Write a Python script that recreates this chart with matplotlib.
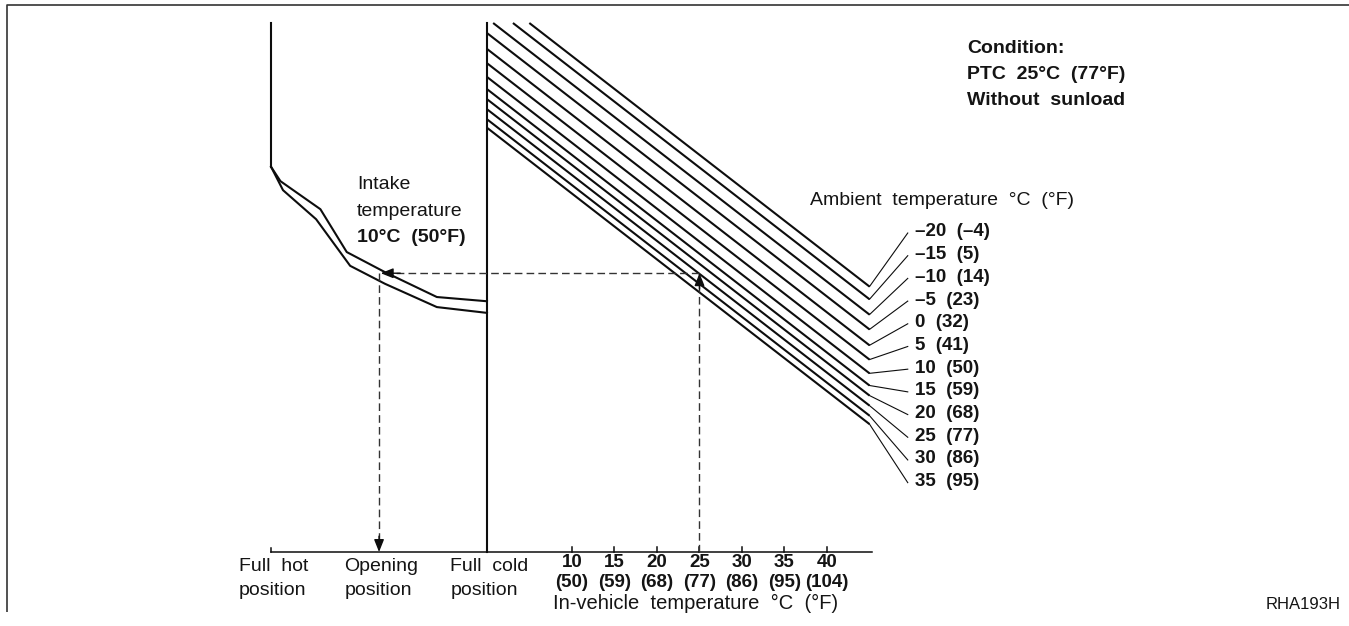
"""
Mix door opening vs in-vehicle temperature chart (service manual style)
"""

import matplotlib
matplotlib.use('Agg')
import matplotlib.pyplot as plt

plt.rcParams['font.family'] = ['Liberation Sans', 'DejaVu Sans']

# ================================
# Data
# ================================
# In-vehicle temperature axis (°C / °F)
invehicle_c = [10, 15, 20, 25, 30, 35, 40]
invehicle_f = [50, 59, 68, 77, 86, 95, 104]

# Ambient temperature lines: value at full cold position, common slope
ambient_c = [-20, -15, -10, -5, 0, 5, 10, 15, 20, 25, 30, 35]
ambient_f = [-4, 5, 14, 23, 32, 41, 50, 59, 68, 77, 86, 95]
ambient_y0 = [106.2, 103.8, 100.9, 98.1, 95.1, 92.4, 89.8, 87.5, 85.6, 83.7, 81.8, 80.2]
ambient_slope = -1.245
T_END = 45
Y_TOP = 100

# Mix door positions on the left-hand scale
pos_names = ['Full  hot\nposition', 'Opening\nposition', 'Full  cold\nposition']
pos_x = [-25.4, -12.7, 0]

# Intake temperature 10°C curve (drawn as two traces)
curve_upper_x = [-25.4, -24.3, -19.6, -16.5, -12.0, -5.9, 0]
curve_upper_y = [72.8, 70.1, 64.8, 56.7, 52.9, 48.2, 47.4]
curve_lower_x = [-25.4, -24.0, -20.1, -16.1, -12.0, -5.9, 0]
curve_lower_y = [72.8, 68.4, 62.9, 54.1, 50.7, 46.3, 45.2]

# Example reading: in-vehicle 25°C -> opening position
read_t = 25
read_y = 52.7

INK = '#0d0d0d'
TXT = '#141414'
FS = 14

# ================================
# Figure
# ================================
fig = plt.figure(figsize=(13.49, 6.26), dpi=100)
ax = fig.add_axes([0, 0, 1, 1])
ax.set_xlim(-57.294, 101.412)
ax.set_ylim(-13.989, 104.348)
ax.axis('off')

# frame (top and left edge)
ax.plot([0.0052, 0.0052, 1.0], [0.022, 0.992, 0.992], transform=ax.transAxes,
        color='#333333', lw=1.2, solid_capstyle='butt')

# baseline with ticks
x_end = 45.3
ax.plot([pos_x[0], x_end], [0, 0], color=INK, lw=1.1)
ax.plot([pos_x[0], pos_x[0]], [0, 0.7], color=INK, lw=1.1)
for t in invehicle_c:
    ax.plot([t, t], [0, 0.95], color=INK, lw=1.1)

# full cold vertical and full hot vertical
ax.plot([pos_x[2], pos_x[2]], [0, Y_TOP], color=INK, lw=1.5)
ax.plot([pos_x[0], pos_x[0]], [curve_upper_y[0], Y_TOP], color=INK, lw=1.5)

# intake temperature curve
ax.plot(curve_upper_x, curve_upper_y, color=INK, lw=1.5)
ax.plot(curve_lower_x, curve_lower_y, color=INK, lw=1.5)

# ambient temperature lines + leaders + labels
label_x = 50.35
label_y0 = 60.5
label_step = 4.29
for i, (c, f, y0) in enumerate(zip(ambient_c, ambient_f, ambient_y0)):
    t0 = max(0.0, (y0 - Y_TOP) / -ambient_slope)
    y_end = y0 + ambient_slope * T_END
    ax.plot([t0, T_END], [y0 + ambient_slope * t0, y_end], color=INK, lw=1.5,
            solid_capstyle='butt')
    ly = label_y0 - i * label_step
    ax.plot([T_END, 49.5], [y_end, ly - 0.2], color=INK, lw=0.8)
    txt = f"{c}  ({f})".replace('-', '\u2013')
    ax.text(label_x, ly, txt, fontsize=13.5, fontweight='bold', color=TXT,
            ha='left', va='center')

ax.text(38.0, 66.5, 'Ambient  temperature  °C  (°F)', fontsize=FS, color=TXT,
        ha='left', va='center')

# dashed reading path
dash = dict(color='#333333', lw=1.0, dashes=(5.5, 3))
ax.plot([read_t, read_t], [0, read_y - 1.5], **dash)
ax.plot([read_t, pos_x[1] + 1.0], [read_y, read_y], **dash)
ax.plot([pos_x[1], pos_x[1]], [read_y, 1.5], **dash)

head = dict(arrowstyle='-|>,head_length=0.75,head_width=0.3', color=INK,
            lw=1.0, shrinkA=0, shrinkB=0)
ax.annotate('', xy=(read_t, read_y), xytext=(read_t, read_y - 3), arrowprops=head)
ax.annotate('', xy=(pos_x[1] + 0.2, read_y), xytext=(pos_x[1] + 2.5, read_y),
            arrowprops=head)
ax.annotate('', xy=(pos_x[1], 0), xytext=(pos_x[1], 3), arrowprops=head)

# intake temperature annotation
ax.text(-15.3, 69.4, 'Intake', fontsize=FS, color=TXT, ha='left', va='center')
ax.text(-15.3, 64.3, 'temperature', fontsize=FS, color=TXT, ha='left', va='center')
ax.text(-15.3, 59.4, '10°C  (50°F)', fontsize=FS, fontweight='bold', color=TXT,
        ha='left', va='center')

# condition block
ax.text(56.5, 95.1, 'Condition:', fontsize=FS, fontweight='bold', color=TXT,
        ha='left', va='center')
ax.text(56.5, 90.2, 'PTC  25°C  (77°F)', fontsize=FS, fontweight='bold', color=TXT,
        ha='left', va='center')
ax.text(56.5, 85.3, 'Without  sunload', fontsize=FS, fontweight='bold', color=TXT,
        ha='left', va='center')

# axis labels
for t, c, f in zip(invehicle_c, invehicle_c, invehicle_f):
    ax.text(t, -1.9, str(c), fontsize=13.5, fontweight='bold', color=TXT,
            ha='center', va='center')
    ax.text(t, -5.7, f"({f})", fontsize=13.5, fontweight='bold', color=TXT,
            ha='center', va='center')
ax.text(24.5, -9.8, 'In-vehicle  temperature  °C  (°F)', fontsize=14.5, color=TXT,
        ha='center', va='center')

for x, name in zip(pos_x, pos_names):
    ax.text(x + 0.3, -5.0, name, fontsize=FS, color=TXT, ha='center', va='center',
            multialignment='left', linespacing=1.5)

ax.text(0.994, 0.035, 'RHA193H', transform=ax.transAxes, fontsize=12,
        color=TXT, ha='right', va='center')

plt.savefig('out.png', dpi=100)
